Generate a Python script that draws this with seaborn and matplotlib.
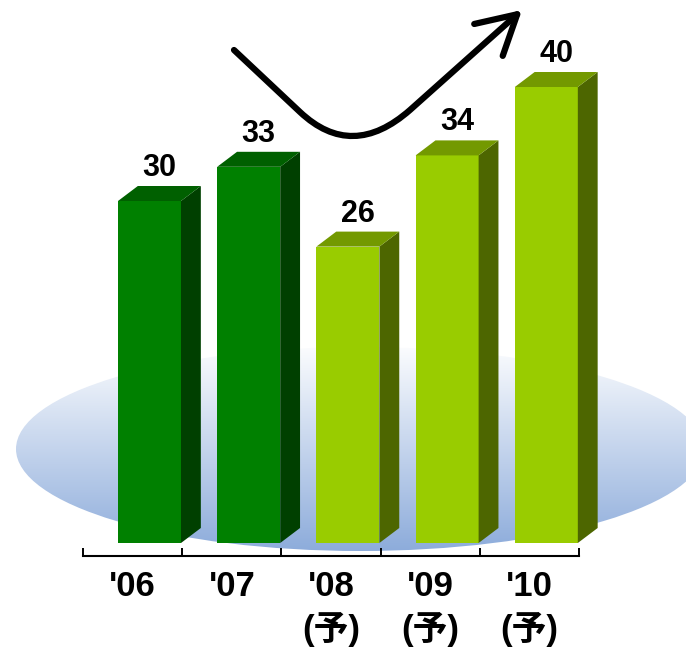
import numpy as np
import pandas as pd
import matplotlib
matplotlib.use("Agg")
import matplotlib.pyplot as plt
from matplotlib.patches import Ellipse, Polygon, FancyArrowPatch
from matplotlib.path import Path
from matplotlib.colors import LinearSegmentedColormap, to_rgb
import seaborn as sns

# ---- data -------------------------------------------------------------
years = ["'06", "'07", "'08\n(予)", "'09\n(予)", "'10\n(予)"]
sales = [30, 33, 26, 34, 40]
status = ["actual", "actual", "forecast", "forecast", "forecast"]
palette = {"actual": "#008000", "forecast": "#99cc00"}

sns.set_style("white")
plt.rcParams["font.family"] = ["Liberation Sans", "Noto Sans CJK JP", "DejaVu Sans"]
plt.rcParams["text.color"] = "black"
plt.rcParams["xtick.color"] = "black"

W, H = 686, 648
fig = plt.figure(figsize=(W / 100, H / 100), dpi=100)

# ---- background: gradient ellipse and trend arrow (pixel coordinates) --
bg = fig.add_axes([0, 0, 1, 1], zorder=0)
bg.set_xlim(0, W)
bg.set_ylim(H, 0)
bg.axis("off")

cmap = LinearSegmentedColormap.from_list("floor", ["#fbfcfe", "#8dacdb"])
grad = np.linspace(0, 1, 256).reshape(-1, 1)
ell = Ellipse((360, 449), 688, 204, facecolor="none", edgecolor="none")
bg.add_patch(ell)
im = bg.imshow(grad, extent=(16, 704, 551, 347), aspect="auto", cmap=cmap,
               origin="upper", interpolation="bilinear")
im.set_clip_path(ell)

verts = [(234, 50), (300, 112), (352, 161), (410, 110), (522, 10)]
codes = [Path.MOVETO, Path.LINETO, Path.CURVE3, Path.CURVE3, Path.LINETO]
arrow = FancyArrowPatch(path=Path(verts, codes),
                        arrowstyle="->,head_length=0.63,head_width=0.35",
                        mutation_scale=44, lw=4.5, color="black",
                        capstyle="round", joinstyle="round")
bg.add_patch(arrow)

# ---- bars ---------------------------------------------------------------
ax = fig.add_axes([0, 92 / H, 1, 556 / H], zorder=1)
ax.patch.set_alpha(0)

df = pd.DataFrame({"year": years, "sales": sales, "status": status})
sns.barplot(data=df, x="year", y="sales", hue="status", palette=palette,
            order=years, dodge=False, width=0.635, saturation=1,
            legend=False, linewidth=0, ax=ax)

px_per_unit = 11.4
ax.set_xlim(-1.507, 5.408)
ax.set_ylim(-13 / px_per_unit, 543 / px_per_unit)

# 3-D extrusion of every bar: darker side face and mid-tone top face
dx, dy = 0.2, 15 / px_per_unit
bars = sorted(ax.patches, key=lambda p: p.get_x())
for bar, val in zip(bars, df["sales"]):
    x0, w, h = bar.get_x(), bar.get_width(), bar.get_height()
    front = np.array(to_rgb(bar.get_facecolor()))
    side = Polygon([(x0 + w, 0), (x0 + w + dx, dy), (x0 + w + dx, h + dy), (x0 + w, h)],
                   closed=True, facecolor=front * 0.5, edgecolor="none", zorder=2)
    top = Polygon([(x0, h), (x0 + dx, h + dy), (x0 + w + dx, h + dy), (x0 + w, h)],
                  closed=True, facecolor=front * 0.75, edgecolor="none", zorder=2)
    ax.add_patch(side)
    ax.add_patch(top)
    ax.text(x0 + w / 2 + dx / 2, h + dy + 0.88, f"{val}", ha="center",
            va="baseline", fontsize=22, fontweight="bold", color="black")

# ---- axis ---------------------------------------------------------------
for s in ("left", "top", "right"):
    ax.spines[s].set_visible(False)
ax.spines["bottom"].set_bounds(-0.67, 4.33)
ax.spines["bottom"].set_linewidth(1.5)
ax.spines["bottom"].set_color("black")
ax.yaxis.set_visible(False)

n = len(years)
ax.set_xticks([i - 0.67 for i in range(n + 1)])
ax.set_xticklabels([""] * (n + 1))
ax.set_xticks([i - 0.17 for i in range(n)], minor=True)
ax.set_xticklabels(years, minor=True, fontsize=25, fontweight="bold",
                   linespacing=1.32, color="black")
ax.tick_params(axis="x", which="major", bottom=True, direction="in",
               length=5.8, width=1.4, color="black")
ax.tick_params(axis="x", which="minor", bottom=True, length=0, pad=10)
ax.set_xlabel("")
ax.set_ylabel("")

fig.savefig("out.png", dpi=100)
